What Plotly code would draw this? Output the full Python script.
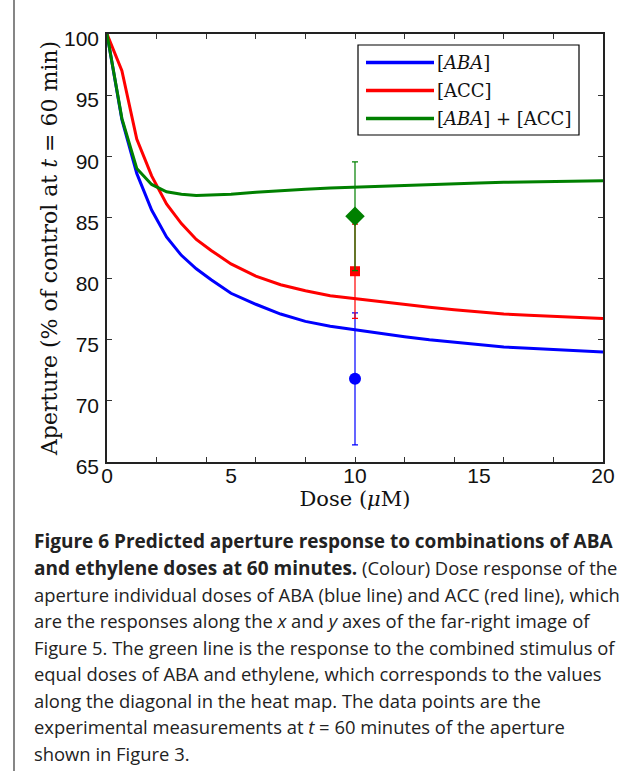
import plotly.graph_objects as go

# ---------------- data ----------------
dose = [0, 0.6, 1.2, 1.8, 2.4, 3.0, 3.6, 4.2, 5.0, 6.0, 7.0, 8.0, 9.0, 10.0,
        11.0, 12.0, 13.0, 14.0, 15.0, 16.0, 17.0, 18.0, 19.0, 20.0]
aba = [100, 93.0, 88.6, 85.6, 83.4, 81.9, 80.8, 79.9, 78.8, 77.9, 77.1, 76.5,
       76.1, 75.8, 75.5, 75.25, 75.0, 74.8, 74.55, 74.4, 74.3, 74.2, 74.1, 74.0]
acc = [100, 97.0, 91.4, 88.4, 86.1, 84.5, 83.2, 82.3, 81.2, 80.2, 79.5, 79.0,
       78.6, 78.35, 78.1, 77.85, 77.65, 77.45, 77.25, 77.1, 77.0, 76.9, 76.8, 76.73]
combo = [100, 93.1, 89.0, 87.7, 87.1, 86.9, 86.8, 86.82, 86.9, 87.05, 87.2, 87.3,
         87.4, 87.48, 87.55, 87.62, 87.7, 87.76, 87.82, 87.87, 87.91, 87.94, 87.97, 88.0]

exp_dose = [10]
exp_aba, exp_aba_err = [71.8], [5.4]
exp_acc, exp_acc_err = [80.6], [3.85]
exp_combo, exp_combo_err = [85.1], [4.45]

series_names = ["[<i>ABA</i>]", "[ACC]", "[<i>ABA</i>] + [ACC]"]
colors = ["#0000ff", "#ff0000", "#008000"]

x_ticks = [0, 5, 10, 15, 20]
x_minor = [0, 2, 4, 6, 8, 10, 12, 14, 16, 18, 20]
y_ticks = [65, 70, 75, 80, 85, 90, 95, 100]

B = '<span style="font-size:19px"><b>'
BE = '</b></span>'
caption_lines = [
    B + "Figure 6 Predicted aperture response to combinations of ABA" + BE,
    B + "and ethylene doses at 60 minutes." + BE + " (Colour) Dose response of the",
    "aperture individual doses of ABA (blue line) and ACC (red line), which",
    "are the responses along the <i>x</i> and <i>y</i> axes of the far-right image of",
    "Figure 5. The green line is the response to the combined stimulus of",
    "equal doses of ABA and ethylene, which corresponds to the values",
    "along the diagonal in the heat map. The data points are the",
    "experimental measurements at <i>t</i> = 60 minutes of the aperture",
    "shown in Figure 3.",
]

# ---------------- layout geometry (pixels) ----------------
W, H = 637, 771
PL, PR, PT, PB = 107, 603, 34, 462
SERIF = "DejaVu Serif, serif"


def fx(p):
    return (p - PL) / (PR - PL)


def fy(p):
    return (PB - p) / (PB - PT)


fig = go.Figure()

for yv, col in zip([aba, acc, combo], colors):
    fig.add_trace(go.Scatter(x=dose, y=yv, mode="lines",
                             line=dict(color=col, width=3), showlegend=False,
                             hoverinfo="x+y"))

points = [(exp_aba, exp_aba_err, colors[0], "circle", 12),
          (exp_acc, exp_acc_err, colors[1], "square", 10),
          (exp_combo, exp_combo_err, colors[2], "diamond", 15)]
for yv, err, col, sym, size in points:
    fig.add_trace(go.Scatter(
        x=exp_dose, y=yv, mode="markers",
        marker=dict(color=col, symbol=sym, size=size, line=dict(width=0)),
        error_y=dict(type="data", array=err, visible=True, color=col,
                     thickness=1.2, width=3),
        showlegend=False))

axis_common = dict(showline=True, linecolor="#222222", linewidth=1.5,
                   mirror="ticks", showgrid=False, zeroline=False,
                   ticks="inside", tickcolor="#333333",
                   tickfont=dict(family="Liberation Sans, Arial", size=21,
                                 color="#111111"))

fig.update_xaxes(range=[0, 20], tickvals=x_ticks, ticklen=0,
                 ticklabelstandoff=-6,
                 minor=dict(tickvals=x_minor, ticklen=5, ticks="inside",
                            tickcolor="#333333"),
                 title=dict(text="Dose (<i>μ</i>M)", standoff=0,
                            font=dict(family=SERIF, size=21, color="#111111")),
                 **axis_common)
fig.update_yaxes(range=[65, 100], tickvals=y_ticks, ticklen=5,
                 ticklabelshift=5, ticklabelstandoff=2,
                 title=dict(text="Aperture (% of control at <i>t</i> = 60 min)",
                            standoff=0,
                            font=dict(family=SERIF, size=22, color="#111111")),
                 **axis_common)

shapes = []
annotations = []

# legend (custom, to match long line samples)
shapes.append(dict(type="rect", xref="paper", yref="paper",
                   x0=fx(358), x1=fx(579), y0=fy(135), y1=fy(45),
                   line=dict(color="#000000", width=1.2), fillcolor="white",
                   layer="above"))
leg_y = [62.5, 90.5, 118.5]
for name, col, ly in zip(series_names, colors, leg_y):
    shapes.append(dict(type="line", xref="paper", yref="paper",
                       x0=fx(366), x1=fx(434), y0=fy(ly), y1=fy(ly),
                       line=dict(color=col, width=3.5), layer="above"))
    annotations.append(dict(text=name, xref="paper", yref="paper",
                            x=fx(435), y=fy(ly), xanchor="left",
                            yanchor="middle", showarrow=False,
                            font=dict(family=SERIF, size=18, color="#111111")))

# left page rule
shapes.append(dict(type="line", xref="paper", yref="paper",
                   x0=fx(14), x1=fx(14), y0=fy(771), y1=fy(0),
                   line=dict(color="#444444", width=1.3)))

# caption
for i, line in enumerate(caption_lines):
    annotations.append(dict(text=line, xref="paper", yref="paper",
                            x=fx(32), y=fy(541 + 26.5 * i),
                            xanchor="left", yanchor="middle",
                            showarrow=False,
                            font=dict(family="Open Sans, sans-serif",
                                      size=18.4, color="#222222")))

fig.update_layout(width=W, height=H,
                  margin=dict(l=PL, r=W - PR, t=PT, b=H - PB, autoexpand=False),
                  paper_bgcolor="white", plot_bgcolor="white",
                  shapes=shapes, annotations=annotations,
                  showlegend=False)

fig.write_html("out.html", config={"displayModeBar": False},
               post_script="document.body.style.margin='0px';")
